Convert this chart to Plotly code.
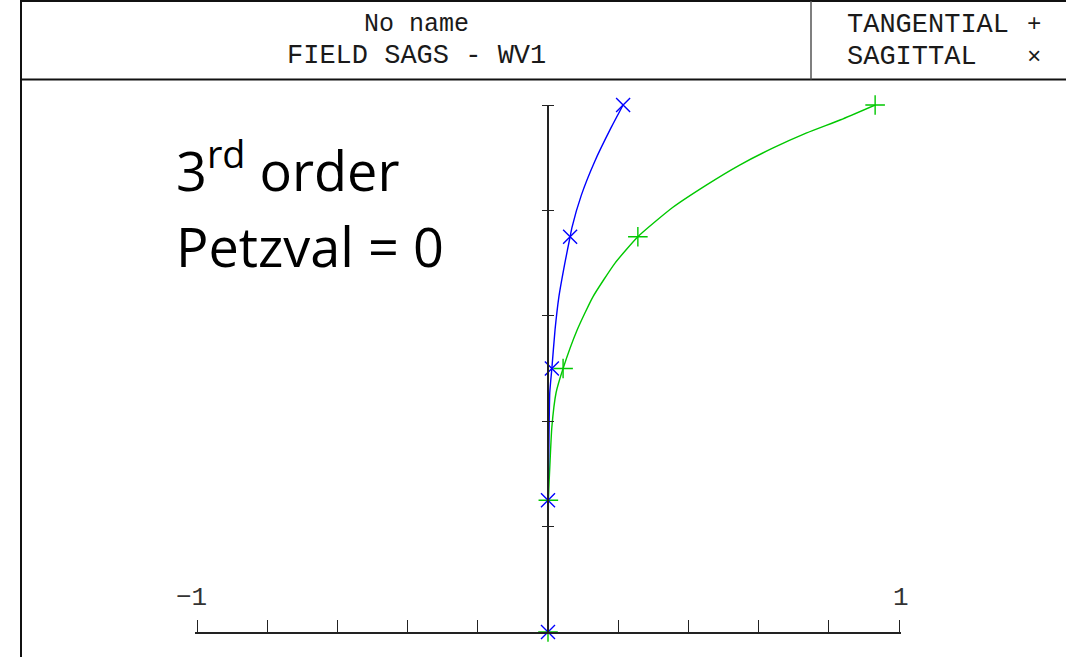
import plotly.graph_objects as go

# ---- data -------------------------------------------------------------
# Tangential field sag (green, "+")
tan_field = [0.0, 0.10, 0.20, 0.25, 0.326, 0.389, 0.454, 0.50, 0.573, 0.636,
             0.700, 0.75, 0.805, 0.848, 0.886, 0.918, 0.947, 0.972, 1.0]
tan_sag = [0.0, 0.0, 0.0, 0.001, 0.006, 0.011, 0.023, 0.043, 0.083, 0.128,
           0.191, 0.256, 0.354, 0.451, 0.546, 0.640, 0.737, 0.834, 0.932]

# Sagittal field sag (blue, "x")
sag_field = [0.0, 0.10, 0.20, 0.25, 0.326, 0.454, 0.50, 0.573, 0.636, 0.700,
             0.75, 0.767, 0.829, 0.892, 0.956, 1.0]
sag_sag = [0.0, 0.0, 0.0, 0.0, 0.002, 0.005, 0.011, 0.020, 0.031, 0.048,
           0.063, 0.068, 0.095, 0.1325, 0.179, 0.214]

# Defined field points (markers)
field_pts = [0.0, 0.25, 0.50, 0.75, 1.0]
tan_pts = [0.0, 0.001, 0.043, 0.256, 0.932]
sag_pts = [0.0, 0.0, 0.011, 0.063, 0.214]

x_tickvals = [-1.0, -0.8, -0.6, -0.4, -0.2, 0.0, 0.2, 0.4, 0.6, 0.8, 1.0]
x_end_labels = [(-1.0, "\u22121"), (1.0, "1")]
y_tickvals = [0.0, 0.2, 0.4, 0.6, 0.8, 1.0]

title_lines = ["No name", "FIELD SAGS - WV1"]
legend_lines = [("TANGENTIAL", "+"), ("SAGITTAL", "\u00d7")]

# ---- layout geometry ----------------------------------------------------
W, H = 1066, 657
PL, PR, PT, PB = 195, 901, 105, 632   # plot area in pixels
UNIT = 351.0                          # pixels per x unit
XHALF = (PR - PL) / 2 / UNIT          # slightly over 1 so the end ticks show


def px(x):
    return (x - PL) / (PR - PL)


def py(y):
    return (PB - y) / (PB - PT)


GREEN = "#00c800"
BLUE = "#0000ff"
CAD_FONT = "Liberation Mono, DejaVu Sans Mono, monospace"
INK = "#1a1a1a"

fig = go.Figure()

fig.add_trace(go.Scatter(x=tan_sag, y=tan_field, mode="lines",
                         line=dict(color=GREEN, width=1.4, shape="spline", smoothing=0.5),
                         cliponaxis=False, hoverinfo="skip"))
fig.add_trace(go.Scatter(x=tan_pts, y=field_pts, mode="markers",
                         marker=dict(symbol="cross-thin", size=14,
                                     line=dict(color=GREEN, width=1.4)),
                         cliponaxis=False, hoverinfo="skip"))
fig.add_trace(go.Scatter(x=sag_sag, y=sag_field, mode="lines",
                         line=dict(color=BLUE, width=1.4, shape="spline", smoothing=0.5),
                         cliponaxis=False, hoverinfo="skip"))
fig.add_trace(go.Scatter(x=sag_pts, y=field_pts, mode="markers",
                         marker=dict(symbol="x-thin", size=14,
                                     line=dict(color=BLUE, width=1.4)),
                         cliponaxis=False, hoverinfo="skip"))
# invisible point on the overlaid axis so its right-hand ticks are drawn
fig.add_trace(go.Scatter(x=[0], y=[0], yaxis="y2", mode="markers",
                         marker=dict(size=1, opacity=0), hoverinfo="skip"))

# ---- frame and header box -----------------------------------------------
frame = dict(color="#111111", width=2)
shapes = [
    dict(type="line", xref="paper", yref="paper",
         x0=px(21), x1=px(21), y0=py(0), y1=py(H), line=frame),
    dict(type="line", xref="paper", yref="paper",
         x0=px(21), x1=px(W), y0=py(1), y1=py(1), line=frame),
    dict(type="line", xref="paper", yref="paper",
         x0=px(21), x1=px(W), y0=py(79.5), y1=py(79.5), line=frame),
    dict(type="line", xref="paper", yref="paper",
         x0=px(811), x1=px(811), y0=py(1), y1=py(79.5),
         line=dict(color="#555555", width=1.5)),
]

annotations = []
for text, yc, size in zip(title_lines, [25, 56], [25, 27]):
    annotations.append(dict(text=text, xref="paper", yref="paper",
                            x=px(416), y=py(yc), xanchor="center", yanchor="middle",
                            showarrow=False,
                            font=dict(family=CAD_FONT, size=size, color=INK)))
for (name, sym), yc in zip(legend_lines, [25, 57]):
    annotations.append(dict(text=name, xref="paper", yref="paper",
                            x=px(845), y=py(yc), xanchor="left", yanchor="middle",
                            showarrow=False,
                            font=dict(family=CAD_FONT, size=27, color=INK)))
    annotations.append(dict(text=sym, xref="paper", yref="paper",
                            x=px(1034), y=py(yc), xanchor="center", yanchor="middle",
                            showarrow=False,
                            font=dict(family=CAD_FONT, size=24, color=INK)))

# end labels of the horizontal scale, sitting above the tick marks
for xv, lab in x_end_labels:
    annotations.append(dict(text=lab, xref="x", yref="paper",
                            x=xv, xshift=-6 if xv < 0 else 2, y=py(598),
                            xanchor="center", yanchor="middle", showarrow=False,
                            font=dict(family=CAD_FONT, size=26, color="#333333")))

BIG_FONT = "Open Sans, Lato, sans-serif"
annotations.append(dict(text="3<sup>rd</sup> order", xref="paper", yref="paper",
                        x=px(174), y=py(168), xanchor="left", yanchor="middle",
                        showarrow=False,
                        font=dict(family=BIG_FONT, size=54, color="black")))
annotations.append(dict(text="Petzval = 0", xref="paper", yref="paper",
                        x=px(174), y=py(246), xanchor="left", yanchor="middle",
                        showarrow=False,
                        font=dict(family=BIG_FONT, size=54, color="black")))

fig.update_layout(
    width=W, height=H, autosize=False,
    margin=dict(l=PL, r=W - PR, t=PT, b=H - PB, pad=0),
    paper_bgcolor="white", plot_bgcolor="white",
    showlegend=False,
    shapes=shapes, annotations=annotations,
    xaxis=dict(range=[-XHALF, XHALF], showgrid=False, zeroline=False,
               showline=True, linecolor="#222222", linewidth=2,
               ticks="inside", ticklen=12, tickwidth=1.2, tickcolor="#222222",
               tickvals=x_tickvals, showticklabels=False,
               fixedrange=True),
    yaxis=dict(range=[0, 1], showgrid=False, zeroline=False,
               anchor="free", position=0.5,
               showline=True, linecolor="#222222", linewidth=2,
               ticks="outside", ticklen=5, tickwidth=1.2, tickcolor="#222222",
               tickvals=y_tickvals, showticklabels=False, fixedrange=True),
    yaxis2=dict(range=[0, 1], overlaying="y", side="right",
                anchor="free", position=0.5,
                showgrid=False, zeroline=False, showline=False,
                ticks="outside", ticklen=5, tickwidth=1.2, tickcolor="#222222",
                tickvals=y_tickvals, showticklabels=False, fixedrange=True),
)

fig.write_html("out.html")
